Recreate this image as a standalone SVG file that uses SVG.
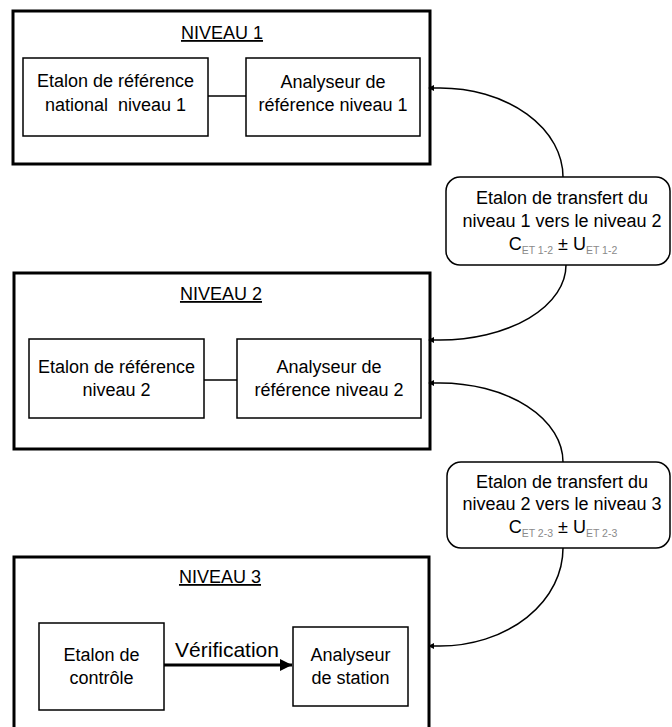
<svg xmlns="http://www.w3.org/2000/svg" width="672" height="727" viewBox="0 0 672 727">
<style>
  text { font-family: "Liberation Sans", Arial, sans-serif; font-size: 18px; fill: #000; text-anchor: middle; }
  .title { text-decoration: underline; }
  .sub { font-size: 10.5px; fill: #8a8a8a; }
  .outer { fill: none; stroke: #000; stroke-width: 3; }
  .inner { fill: #fff; stroke: #000; stroke-width: 1.5; }
  .callout { fill: #fff; stroke: #000; stroke-width: 1.5; }
  .link { fill: none; stroke: #000; stroke-width: 1.5; }
  .verif { fill: none; stroke: #000; stroke-width: 3; }
</style>
<defs>
  <marker id="ah" viewBox="0 0 10 10" refX="0" refY="5" markerWidth="7" markerHeight="6" markerUnits="userSpaceOnUse" orient="auto">
    <path d="M0,0 L10,5 L0,10 Z" fill="#000"/>
  </marker>
  <marker id="ahBig" viewBox="0 0 10 10" refX="10" refY="5" markerWidth="18" markerHeight="12" markerUnits="userSpaceOnUse" orient="auto">
    <path d="M0,0 L10,5 L0,10 Z" fill="#000"/>
  </marker>
</defs>
<rect width="672" height="727" fill="#fff"/>

<g id="niveau1">
  <rect class="outer" x="13" y="11" width="417" height="153"/>
  <text class="title" x="222" y="39">NIVEAU 1</text>
</g>
<g id="etalon1">
  <rect class="inner" x="23" y="58" width="185" height="78"/>
  <text x="115.5" y="87">Etalon de référence</text>
  <text x="115.5" y="111">national&#160; niveau 1</text>
</g>
<g id="analyseur1">
  <rect class="inner" x="246" y="58" width="174" height="78"/>
  <text x="333" y="88">Analyseur de</text>
  <text x="333" y="111">référence niveau 1</text>
</g>

<g id="niveau2">
  <rect class="outer" x="14" y="273" width="416" height="176"/>
  <text class="title" x="221" y="300">NIVEAU 2</text>
</g>
<g id="etalon2">
  <rect class="inner" x="29" y="339" width="175" height="79"/>
  <text x="116.5" y="373">Etalon de référence</text>
  <text x="116.5" y="396">niveau 2</text>
</g>
<g id="analyseur2">
  <rect class="inner" x="237" y="339" width="184" height="79"/>
  <text x="329" y="373">Analyseur de</text>
  <text x="329" y="396">référence niveau 2</text>
</g>

<g id="niveau3">
  <rect class="outer" x="14" y="557" width="415" height="190"/>
  <text class="title" x="220" y="583">NIVEAU 3</text>
</g>
<g id="etalonControle">
  <rect class="inner" x="39" y="623" width="125" height="87"/>
  <text x="101.5" y="661">Etalon de</text>
  <text x="101.5" y="684">contrôle</text>
</g>
<g id="analyseurStation">
  <rect class="inner" x="293" y="627" width="115" height="79"/>
  <text x="350.5" y="661">Analyseur</text>
  <text x="350.5" y="684">de station</text>
</g>

<g id="transfert12">
  <rect class="callout" x="446" y="177" width="224" height="88" rx="14" ry="14"/>
  <text x="562" y="204">Etalon de transfert du</text>
  <text x="562" y="227">niveau 1 vers le niveau 2</text>
  <text x="563" y="250">C<tspan class="sub" dy="4">ET 1-2</tspan><tspan dy="-4"> ± U</tspan><tspan class="sub" dy="4">ET 1-2</tspan></text>
</g>
<g id="transfert23">
  <rect class="callout" x="447" y="462" width="223" height="86" rx="14" ry="14"/>
  <text x="562" y="488">Etalon de transfert du</text>
  <text x="562" y="510">niveau 2 vers le niveau 3</text>
  <text x="563" y="533">C<tspan class="sub" dy="4">ET 2-3</tspan><tspan dy="-4"> ± U</tspan><tspan class="sub" dy="4">ET 2-3</tspan></text>
</g>

<g id="connectors">
  <line class="link" x1="208" y1="96" x2="246" y2="96"/>
  <line class="link" x1="204" y1="380" x2="237" y2="380"/>
  <line class="verif" x1="164" y1="665" x2="292" y2="665" marker-end="url(#ahBig)"/>
  <text x="227" y="657" style="font-size:21px">Vérification</text>
  <path class="link" d="M563,177 A123,89 0 0 0 440,88 L434,88" marker-end="url(#ah)"/>
  <path class="link" d="M566,265 A126,75 0 0 1 440,340 L434,340" marker-end="url(#ah)"/>
  <path class="link" d="M563,462 A123,79 0 0 0 440,383 L434,383" marker-end="url(#ah)"/>
  <path class="link" d="M563,548 A123,98 0 0 1 440,646 L434,646" marker-end="url(#ah)"/>
</g>
</svg>
